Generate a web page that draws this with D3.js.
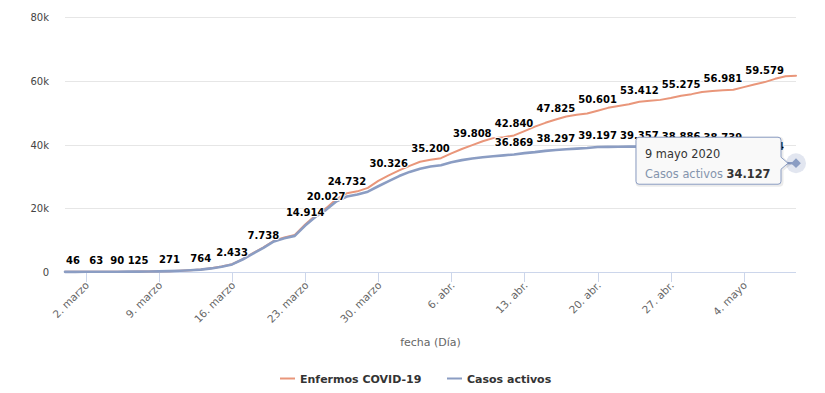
<!DOCTYPE html>
<html>
<head>
<meta charset="utf-8">
<script src="https://cdn.jsdelivr.net/npm/d3@7"></script>
<style>
  body { margin: 0; background: #fff; }
  svg { font-family: "DejaVu Sans", Verdana, sans-serif; }
</style>
</head>
<body>
<svg id="chart" width="825" height="393"></svg>
<script>
// Datos: un punto por día, del 29 feb. al 9 mayo 2020
var startDate = new Date(2020, 1, 29);
var endDate = new Date(2020, 4, 9);

var enfermos = [
    46, 52, 57, 63, 75, 90, 105, 125, 160, 210,
    271, 380, 540, 764, 1150, 1700, 2433, 4000, 5900, 7738,
    9800, 10800, 11600, 14914, 17800, 20027, 22900, 24732, 25300, 26400,
    28600, 30326, 31900, 33300, 34600, 35200, 35700, 37200, 38600, 39808,
    41000, 42000, 42300, 42840, 44200, 45600, 46800, 47825, 48800, 49300,
    49700, 50601, 51500, 52100, 52600, 53412, 53700, 54000, 54600, 55275,
    55800, 56500, 56800, 56981, 57150, 58000, 58800, 59579, 60600, 61400,
    61600
];

var activos = [
    46, 52, 57, 63, 75, 89, 104, 123, 157, 206,
    265, 372, 530, 748, 1125, 1665, 2380, 3920, 5780, 7580,
    9590, 10560, 11330, 14560, 17350, 19500, 22200, 23700, 24300, 25200,
    26900, 28500, 30100, 31400, 32400, 33100, 33500, 34400, 35100, 35600,
    36000, 36300, 36600, 36869, 37300, 37600, 38000, 38297, 38500, 38700,
    38900, 39197, 39250, 39300, 39330, 39357, 39300, 39200, 39050, 38886,
    38800, 38760, 38750, 38739, 38400, 37600, 36700, 35824, 34900, 34200,
    34127
];

var seriesNames = ["Enfermos COVID-19", "Casos activos"];
var seriesColors = ["#e9967a", "#8b9dc3"];

var yTicks = [0, 20000, 40000, 60000, 80000];
var yTickLabels = ["0", "20k", "40k", "60k", "80k"];

var xTickDates = [
    new Date(2020, 2, 2), new Date(2020, 2, 9), new Date(2020, 2, 16),
    new Date(2020, 2, 23), new Date(2020, 2, 30), new Date(2020, 3, 6),
    new Date(2020, 3, 13), new Date(2020, 3, 20), new Date(2020, 3, 27),
    new Date(2020, 4, 4)
];
var xTickLabels = ["2. marzo", "9. marzo", "16. marzo", "23. marzo", "30. marzo",
    "6. abr.", "13. abr.", "20. abr.", "27. abr.", "4. mayo"];

var meses = ["enero", "febrero", "marzo", "abril", "mayo", "junio", "julio",
    "agosto", "septiembre", "octubre", "noviembre", "diciembre"];

var dates = d3.timeDay.range(startDate, d3.timeDay.offset(endDate, 1));

// Formato de números con punto de miles
var numFormat = d3.formatLocale({ decimal: ",", thousands: ".", grouping: [3], currency: ["", ""] }).format(",d");

var plotLeft = 65, plotRight = 796, plotTop = 17, plotBottom = 272;

var svg = d3.select("#chart");

var x = d3.scaleTime().domain([startDate, endDate]).range([plotLeft, plotRight]);
var y = d3.scaleLinear().domain([0, 80000]).range([plotBottom, plotTop]);

// Líneas de la cuadrícula
svg.append("g").selectAll("line")
    .data(yTicks.slice(1))
    .enter().append("line")
    .attr("x1", plotLeft)
    .attr("x2", plotRight)
    .attr("y1", d => Math.round(y(d)) + 0.5)
    .attr("y2", d => Math.round(y(d)) + 0.5)
    .attr("stroke", "#e6e6e6");

// Etiquetas del eje Y
svg.append("g").selectAll("text")
    .data(yTicks)
    .enter().append("text")
    .attr("x", 49)
    .attr("y", d => y(d) + 4)
    .attr("text-anchor", "end")
    .attr("font-size", "10px")
    .attr("fill", "#444")
    .text((d, i) => yTickLabels[i]);

// Eje X
svg.append("line")
    .attr("x1", plotLeft).attr("x2", plotRight)
    .attr("y1", plotBottom + 0.5).attr("y2", plotBottom + 0.5)
    .attr("stroke", "#ccd6eb");

svg.append("g").selectAll("line")
    .data(xTickDates)
    .enter().append("line")
    .attr("x1", d => Math.round(x(d)) + 0.5)
    .attr("x2", d => Math.round(x(d)) + 0.5)
    .attr("y1", plotBottom)
    .attr("y2", plotBottom + 10)
    .attr("stroke", "#ccd6eb");

svg.append("g").selectAll("text")
    .data(xTickDates)
    .enter().append("text")
    .attr("transform", d => "translate(" + (x(d) + 4) + "," + (plotBottom + 14) + ") rotate(-45)")
    .attr("text-anchor", "end")
    .attr("font-size", "10.5px")
    .attr("fill", "#666")
    .text((d, i) => xTickLabels[i]);

svg.append("text")
    .attr("x", (plotLeft + plotRight) / 2)
    .attr("y", 346)
    .attr("text-anchor", "middle")
    .attr("font-size", "11px")
    .attr("fill", "#666")
    .text("fecha (Día)");

// Series
var allSeries = [enfermos, activos];
var lineWidths = [2, 2.6];
var line = d3.line()
    .x((d, i) => x(dates[i]))
    .y(d => y(d));

allSeries.forEach(function (values, s) {
    svg.append("path")
        .datum(values)
        .attr("d", line)
        .attr("fill", "none")
        .attr("stroke", seriesColors[s])
        .attr("stroke-width", lineWidths[s])
        .attr("stroke-linejoin", "round")
        .attr("stroke-linecap", "round");
});

// Etiquetas de datos, ocultando las que se solapan
var labelGroup = svg.append("g");
var placed = [];
var gap = 2;
allSeries.forEach(function (values, s) {
    values.forEach(function (v, i) {
        var px = x(dates[i]), py = y(v);
        var t = labelGroup.append("text")
            .attr("font-size", "10px")
            .attr("font-weight", "bold")
            .attr("fill", "#000")
            .attr("stroke", "#fff")
            .attr("stroke-width", 2)
            .attr("paint-order", "stroke")
            .attr("stroke-linejoin", "round")
            .text(numFormat(v));
        var w = t.node().getComputedTextLength();
        var left = px - w / 2;
        if (left < plotLeft + 1) left = plotLeft + 1;
        if (left + w > plotRight) left = plotRight - w;
        var box = { x1: left - gap / 2, x2: left + w + gap / 2, y1: py - 20, y2: py - 6 };
        var hit = placed.some(b => box.x1 < b.x2 && box.x2 > b.x1 && box.y1 < b.y2 && box.y2 > b.y1);
        if (hit) { t.remove(); return; }
        placed.push(box);
        t.attr("x", left).attr("y", py - 8);
    });
});

// Punto resaltado y tooltip del último día
var last = activos.length - 1;
var ax = x(dates[last]), ay = y(activos[last]);

svg.append("circle")
    .attr("cx", ax).attr("cy", ay).attr("r", 10)
    .attr("fill", seriesColors[1]).attr("fill-opacity", 0.25);
svg.append("path")
    .attr("d", d3.symbol(d3.symbolDiamond2, 60)())
    .attr("transform", "translate(" + ax + "," + ay + ")")
    .attr("fill", seriesColors[1]);

var tipW = 145, tipH = 47;
var tipX = ax - 15 - tipW, tipY = ay - 26;
var r = 3;
var tipPath = "M" + (tipX + r) + "," + tipY +
    "H" + (tipX + tipW - r) +
    "Q" + (tipX + tipW) + "," + tipY + " " + (tipX + tipW) + "," + (tipY + r) +
    "V" + (ay - 6) +
    "L" + (ax - 8) + "," + ay +
    "L" + (tipX + tipW) + "," + (ay + 6) +
    "V" + (tipY + tipH - r) +
    "Q" + (tipX + tipW) + "," + (tipY + tipH) + " " + (tipX + tipW - r) + "," + (tipY + tipH) +
    "H" + (tipX + r) +
    "Q" + tipX + "," + (tipY + tipH) + " " + tipX + "," + (tipY + tipH - r) +
    "V" + (tipY + r) +
    "Q" + tipX + "," + tipY + " " + (tipX + r) + "," + tipY + "Z";

svg.append("path")
    .attr("d", tipPath)
    .attr("transform", "translate(1,1)")
    .attr("fill", "none")
    .attr("stroke", "#000")
    .attr("stroke-opacity", 0.08)
    .attr("stroke-width", 3);
svg.append("path")
    .attr("d", tipPath)
    .attr("fill", "#f9f9f9")
    .attr("stroke", seriesColors[1])
    .attr("stroke-width", 1);

var lastDate = dates[last];
svg.append("text")
    .attr("x", tipX + 9)
    .attr("y", tipY + 21)
    .attr("font-size", "11.4px")
    .attr("fill", "#333")
    .text(lastDate.getDate() + " " + meses[lastDate.getMonth()] + " " + lastDate.getFullYear());

var tipLine = svg.append("text")
    .attr("x", tipX + 9)
    .attr("y", tipY + 41)
    .attr("font-size", "11.4px");
tipLine.append("tspan").attr("fill", "#8494ad").text(seriesNames[1] + " ");
tipLine.append("tspan").attr("fill", "#333").attr("font-weight", "bold").text(numFormat(activos[last]));

// Leyenda
var legendX = [280, 447];
var legend = svg.append("g");
seriesNames.forEach(function (name, s) {
    legend.append("line")
        .attr("x1", legendX[s]).attr("x2", legendX[s] + 15)
        .attr("y1", 378.5).attr("y2", 378.5)
        .attr("stroke", seriesColors[s])
        .attr("stroke-width", 2);
    legend.append("text")
        .attr("x", legendX[s] + 20)
        .attr("y", 382.5)
        .attr("font-size", "11px")
        .attr("font-weight", "bold")
        .attr("fill", "#333")
        .text(name);
});
</script>
</body>
</html>
